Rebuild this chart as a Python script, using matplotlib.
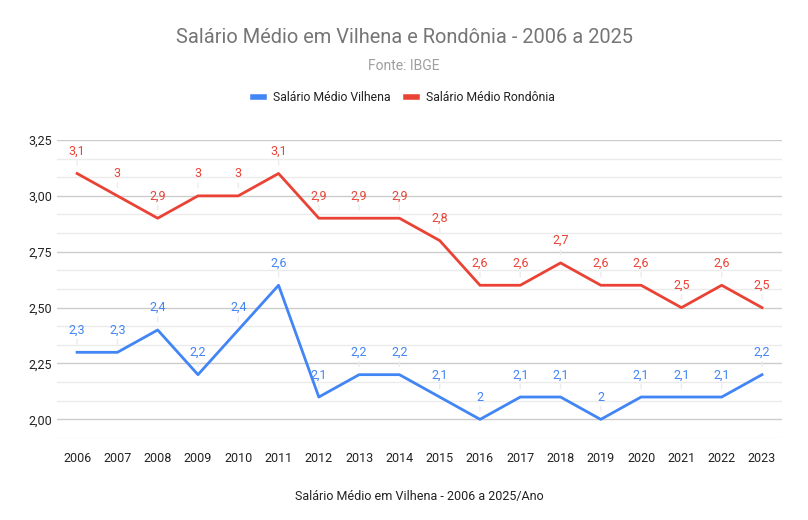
import numpy as np
import matplotlib.pyplot as plt
from matplotlib.ticker import MultipleLocator, FuncFormatter
from matplotlib.lines import Line2D

plt.rcParams['font.family'] = ['Roboto', 'DejaVu Sans']

anos = list(range(2006, 2024))
vilhena = [2.3, 2.3, 2.4, 2.2, 2.4, 2.6, 2.1, 2.2, 2.2, 2.1, 2.0, 2.1, 2.1, 2.0, 2.1, 2.1, 2.1, 2.2]
rondonia = [3.1, 3.0, 2.9, 3.0, 3.0, 3.1, 2.9, 2.9, 2.9, 2.8, 2.6, 2.6, 2.7, 2.6, 2.6, 2.5, 2.6, 2.5]

azul = '#4285F4'
vermelho = '#EA4335'

fig = plt.figure(figsize=(8.08, 5.20), dpi=100)
ax = fig.add_axes([0.0705, 0.1577, 0.8975, 0.5731])

ax.plot(anos, vilhena, color=azul, lw=2, zorder=3)
ax.plot(anos, rondonia, color=vermelho, lw=2, zorder=3)

def fmt(v):
    return f"{v:g}".replace('.', ',')

# rótulos com linhas-guia
for serie, cor in [(vilhena, azul), (rondonia, vermelho)]:
    for x, y in zip(anos, serie):
        ax.annotate(fmt(y), (x, y), xytext=(0, 16), textcoords='offset points',
                    ha='center', va='center', color=cor, fontsize=9,
                    arrowprops=dict(arrowstyle='-', color='#ececec', lw=1,
                                    shrinkA=0, shrinkB=6), zorder=2)

ax.set_xlim(2005.5, 2023.5)
ax.set_ylim(2.0 - 0.25 / 3, 3.25)
ax.set_xticks(anos)
ax.yaxis.set_major_locator(MultipleLocator(0.25))
ax.yaxis.set_minor_locator(MultipleLocator(0.25 / 3))
ax.yaxis.set_major_formatter(FuncFormatter(lambda v, p: f"{v:.2f}".replace('.', ',')))
ax.grid(axis='y', which='major', color='#cccccc', lw=1)
ax.grid(axis='y', which='minor', color='#ebebeb', lw=1)
ax.set_axisbelow(True)
for s in ax.spines.values():
    s.set_visible(False)
ax.tick_params(axis='both', length=0, labelsize=9, colors='#222222')
ax.tick_params(axis='y', which='minor', length=0)
ax.tick_params(axis='x', pad=10)

ax.set_xlabel('Salário Médio em Vilhena - 2006 a 2025/Ano', fontsize=9, color='#222222', labelpad=18)

fig.text(0.5, 0.927, 'Salário Médio em Vilhena e Rondônia - 2006 a 2025', ha='center', va='center',
         fontsize=14.4, color='#757575')
fig.text(0.5, 0.873, 'Fonte: IBGE', ha='center', va='center', fontsize=10, color='#9e9e9e')
handles = [Line2D([], [], color=azul, lw=4), Line2D([], [], color=vermelho, lw=4)]
fig.legend(handles, ['Salário Médio Vilhena', 'Salário Médio Rondônia'],
           loc='center', bbox_to_anchor=(0.5, 0.812), ncol=2, frameon=False, fontsize=8.8,
           handlelength=0.9, columnspacing=1.3, handletextpad=0.7, labelcolor='#222222')

fig.savefig('out.png', dpi=100)
